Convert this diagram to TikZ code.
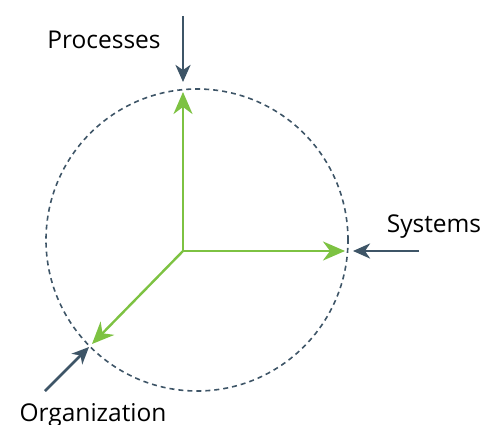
\documentclass[tikz,border=0pt]{standalone}
\usepackage{fontspec}
\setmainfont{Open Sans}
\usetikzlibrary{arrows.meta}

\begin{document}
\begin{tikzpicture}[x=1pt,y=-1pt]

% Colori
\definecolor{colVerde}{HTML}{7DC242}
\definecolor{colScuro}{HTML}{3E5567}

\tikzset{
  asse/.style={colVerde, line width=2.4pt, -{Stealth[length=22pt,width=19pt,inset=7pt]}},
  freccia/.style={colScuro, line width=2.8pt, -{Stealth[length=17pt,width=15pt,inset=5pt]}},
  etichetta/.style={anchor=base, font=\fontsize{24.5}{28}\selectfont, text=black}
}

\useasboundingbox (0,0) rectangle (495,425);

% Raggio del cerchio
\def\r{151pt}

% Cerchio tratteggiato
\draw[colScuro, line width=1.6pt, dash pattern=on 5pt off 4pt] (197,240) circle[radius=\r];

% Assi verdi
\coordinate (o) at (183,251);
\coordinate (pTip) at (183,92);
\coordinate (sTip) at (345,251);
\coordinate (oTip) at (92,344);
\draw[asse] (o) -- (pTip);
\draw[asse] (o) -- (sTip);
\draw[asse] (o) -- (oTip);

% Frecce esterne
\coordinate (pStart) at (183,16);
\coordinate (pEnd) at (183,82);
\coordinate (sStart) at (419,251);
\coordinate (sEnd) at (353,251);
\coordinate (orgStart) at (45,391);
\coordinate (orgEnd) at (89,347);
\draw[freccia] (pStart) -- (pEnd);
\draw[freccia] (sStart) -- (sEnd);
\draw[freccia] (orgStart) -- (orgEnd);

% Etichette
\node[etichetta] (procLbl) at (104,49) {Processes};
\node[etichetta] (sysLbl) at (434,232) {Systems};
\node[etichetta] (orgLbl) at (93,421) {Organization};

\end{tikzpicture}
\end{document}
